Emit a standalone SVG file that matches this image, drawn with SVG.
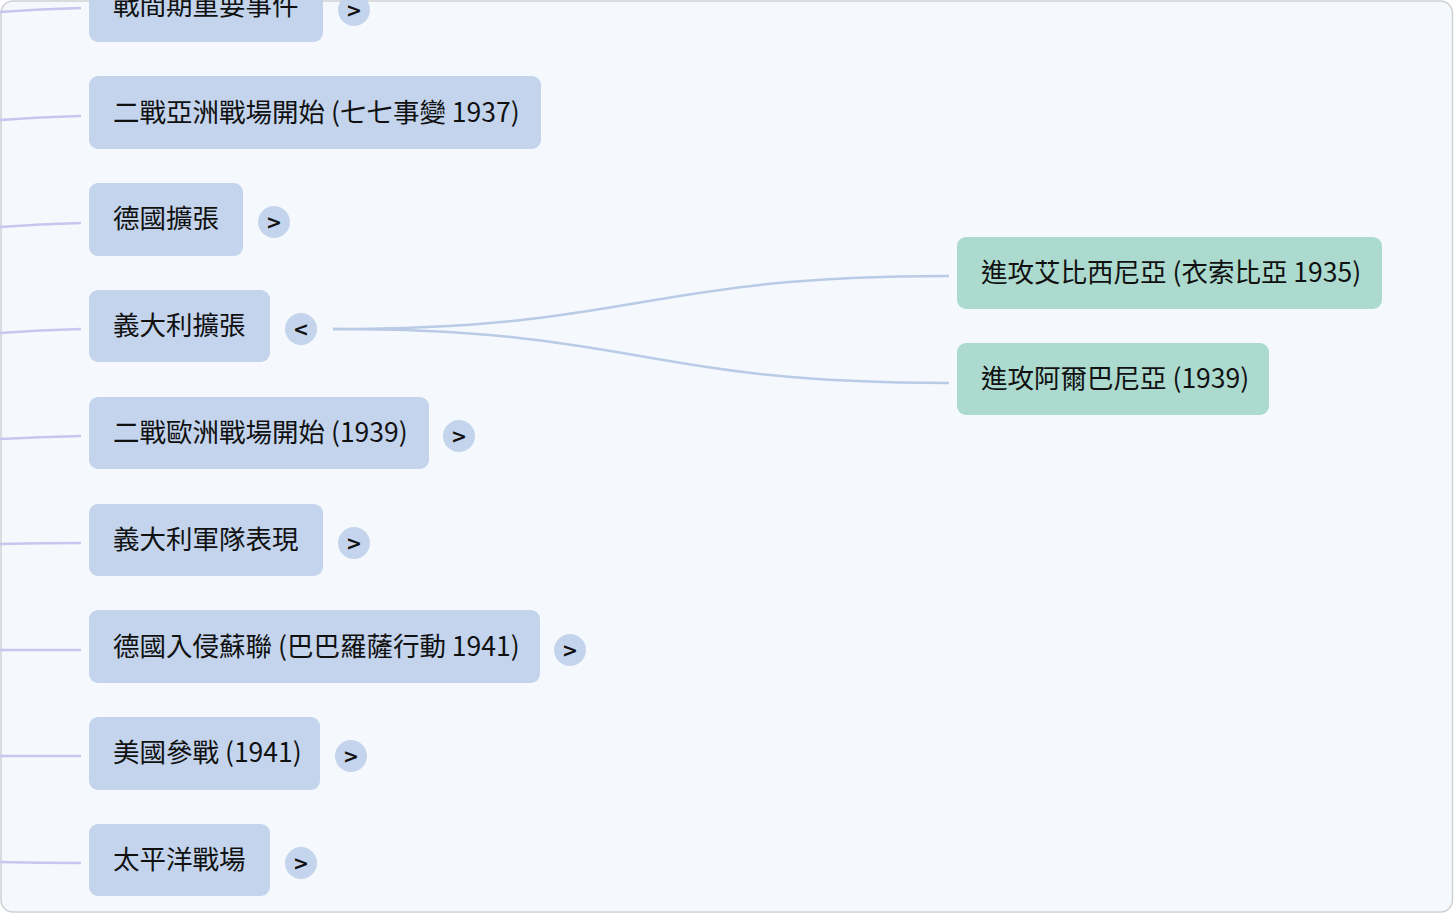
<svg xmlns="http://www.w3.org/2000/svg" width="1454" height="914" viewBox="0 0 1454 914">
<style>
.bg{fill:#f5f9fd;stroke:#cfd1d4;stroke-width:1.5}
.nb{fill:#c3d4ec}
.ng{fill:#acdace}
.t{font-family:"Noto Sans CJK TC","Noto Sans",sans-serif;font-size:26.5px;fill:#111}
.cv{fill:#c3d4ec}
.ct{font-family:"DejaVu Sans","Liberation Sans",sans-serif;font-size:19px;font-weight:bold;fill:#111;text-anchor:middle}
.lv{fill:none;stroke:#c8c5ef;stroke-width:2.5}
.lb{fill:none;stroke:#b9cbe6;stroke-width:2.5}
</style>
<rect class="bg" x="1" y="1" width="1451.5" height="911" rx="12"/>
<g id="connectors">
<path class="lv" d="M0,12 Q40,9 81,8"/>
<path class="lv" d="M0,120 Q40,117 81,116"/>
<path class="lv" d="M0,227 Q40,224 81,223"/>
<path class="lv" d="M0,333 Q40,330 81,329"/>
<path class="lv" d="M0,439 Q40,437 81,436"/>
<path class="lv" d="M0,544 Q40,543 81,543"/>
<path class="lv" d="M0,650 L81,650"/>
<path class="lv" d="M0,756 L81,756"/>
<path class="lv" d="M0,862 Q40,863 81,863"/>
<path class="lb" d="M333,329 C640,329 640,276 949,276"/>
<path class="lb" d="M333,329 C640,329 640,383 949,383"/>
</g>
<g id="n1"><rect class="nb" x="89" y="-31" width="234" height="73" rx="9"/><text class="t" x="113" y="15">戰間期重要事件</text><circle class="cv" cx="354" cy="10" r="16"/><text class="ct" x="354" y="17">&gt;</text></g>
<g id="n2"><rect class="nb" x="89" y="76" width="452" height="73" rx="9"/><text class="t" x="113" y="122">二戰亞洲戰場開始 (七七事變 1937)</text></g>
<g id="n3"><rect class="nb" x="89" y="183" width="154" height="73" rx="9"/><text class="t" x="113" y="228">德國擴張</text><circle class="cv" cx="274" cy="222" r="16"/><text class="ct" x="274" y="229">&gt;</text></g>
<g id="n4"><rect class="nb" x="89" y="290" width="181" height="72" rx="9"/><text class="t" x="113" y="335">義大利擴張</text><circle class="cv" cx="301" cy="329" r="16"/><text class="ct" x="301" y="336">&lt;</text></g>
<g id="n5"><rect class="nb" x="89" y="397" width="340" height="72" rx="9"/><text class="t" x="113" y="442">二戰歐洲戰場開始 (1939)</text><circle class="cv" cx="459" cy="436" r="16"/><text class="ct" x="459" y="443">&gt;</text></g>
<g id="n6"><rect class="nb" x="89" y="504" width="234" height="72" rx="9"/><text class="t" x="113" y="549">義大利軍隊表現</text><circle class="cv" cx="354" cy="543" r="16"/><text class="ct" x="354" y="550">&gt;</text></g>
<g id="n7"><rect class="nb" x="89" y="610" width="451" height="73" rx="9"/><text class="t" x="113" y="656">德國入侵蘇聯 (巴巴羅薩行動 1941)</text><circle class="cv" cx="570" cy="650" r="16"/><text class="ct" x="570" y="657">&gt;</text></g>
<g id="n8"><rect class="nb" x="89" y="717" width="231" height="73" rx="9"/><text class="t" x="113" y="762">美國參戰 (1941)</text><circle class="cv" cx="351" cy="756" r="16"/><text class="ct" x="351" y="763">&gt;</text></g>
<g id="n9"><rect class="nb" x="89" y="824" width="181" height="72" rx="9"/><text class="t" x="113" y="869">太平洋戰場</text><circle class="cv" cx="301" cy="863" r="16"/><text class="ct" x="301" y="870">&gt;</text></g>
<g id="n10"><rect class="ng" x="957" y="237" width="425" height="72" rx="9"/><text class="t" x="981" y="282">進攻艾比西尼亞 (衣索比亞 1935)</text></g>
<g id="n11"><rect class="ng" x="957" y="343" width="312" height="72" rx="9"/><text class="t" x="981" y="388">進攻阿爾巴尼亞 (1939)</text></g>
</svg>
